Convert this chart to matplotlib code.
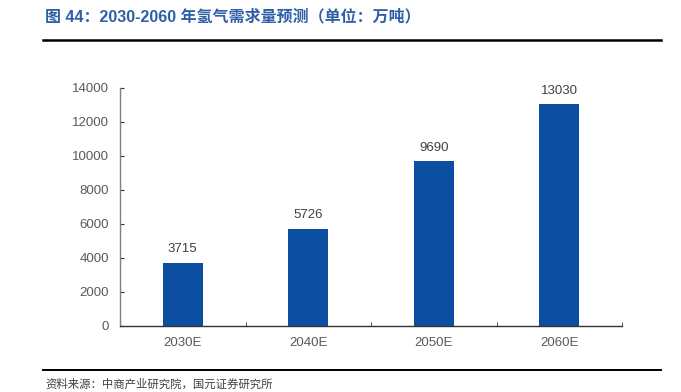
import matplotlib
matplotlib.use('Agg')
import matplotlib.pyplot as plt
from matplotlib.lines import Line2D

plt.rcParams['font.family'] = ['Liberation Sans', 'Noto Sans CJK SC', 'DejaVu Sans']

categories = ['2030E', '2040E', '2050E', '2060E']
demand = [3715, 5726, 9690, 13030]
y_ticks = [0, 2000, 4000, 6000, 8000, 10000, 12000, 14000]

title = '图 44：2030-2060 年氢气需求量预测（单位：万吨）'
source = '资料来源：中商产业研究院，国元证券研究所'

fig = plt.figure(figsize=(6.81, 3.92), dpi=100)
ax = fig.add_axes([120 / 681, 1 - 326 / 392, 502 / 681, 238 / 392])

x = range(len(categories))
bars = ax.bar(x, demand, width=0.32, color='#0B4EA2', zorder=2)
for xi, v in zip(x, demand):
    ax.text(xi, v + 450, str(v), ha='center', va='bottom', fontsize=9.5, color='#404040')

ax.set_xlim(-0.5, len(categories) - 0.5)
ax.set_ylim(0, 14000)
ax.set_yticks(y_ticks)
ax.set_xticks(x)
ax.set_xticklabels(categories)
ax.set_xticks([i + 0.5 for i in x], minor=True)
ax.tick_params(axis='x', which='major', length=0, pad=8, labelsize=9.5, labelcolor='#595959')
ax.tick_params(axis='x', which='minor', direction='in', length=3, color='#333333')
ax.tick_params(axis='y', direction='in', length=3, labelsize=9.5, labelcolor='#595959', pad=8, color='#333333')

for s in ['top', 'right']:
    ax.spines[s].set_visible(False)
ax.spines['left'].set_color('#7f7f7f')
ax.spines['bottom'].set_color('#333333')
ax.spines['left'].set_linewidth(1.0)
ax.spines['bottom'].set_linewidth(1.0)

# header and footer
fig.text(45 / 681, 1 - 17 / 392, title, fontsize=11.5, fontweight='bold', color='#2E5FA8',
         ha='left', va='center', family=['Liberation Sans', 'Noto Sans CJK SC'])
fig.add_artist(Line2D([43 / 681, 661 / 681], [1 - 40 / 392, 1 - 40 / 392], color='black', lw=1.8))
fig.add_artist(Line2D([43 / 681, 661 / 681], [1 - 370 / 392, 1 - 370 / 392], color='black', lw=1.4))
fig.text(45 / 681, 1 - 384 / 392, source, fontsize=8.2, color='#404040', ha='left', va='center',
         family=['Noto Sans CJK SC'])

fig.savefig('out.png', dpi=100)
